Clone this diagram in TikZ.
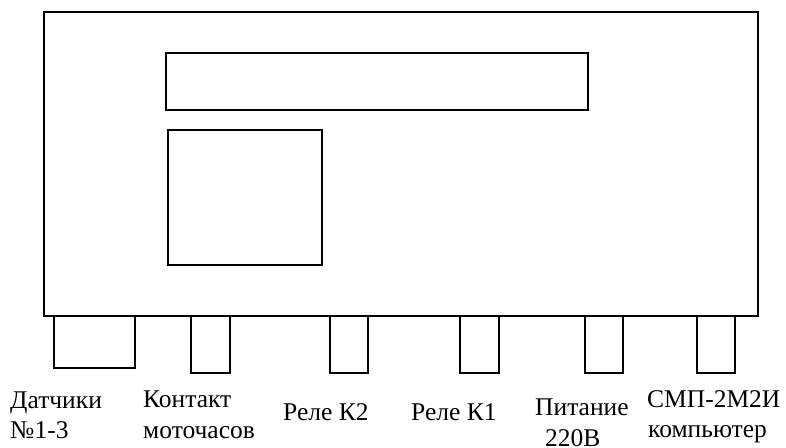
\documentclass[tikz,border=0pt]{standalone}
\usepackage{fontspec}
\setmainfont{Liberation Serif}
\begin{document}
\begin{tikzpicture}[x=1pt,y=-1pt,
  box/.style={draw=black,line width=1.3pt},
  lbl/.style={anchor=base west,inner sep=0pt,font=\fontsize{25.5}{30}\selectfont}]
\useasboundingbox (0,0) rectangle (786,447);
\draw[box] (44,12) rectangle (758,316);
\draw[box] (166,53) rectangle (588,110);
\draw[box] (168,130) rectangle (322,265);
% connectors
\draw[box] (54,316) rectangle (135,368);
\draw[box] (191,316) rectangle (230,373);
\draw[box] (330,316) rectangle (368,373);
\draw[box] (460,316) rectangle (499,373);
\draw[box] (585,316) rectangle (623,373);
\draw[box] (697,316) rectangle (735,373);
% labels
\node[lbl] (d1) at (10,408) {Датчики};
\node[lbl] (d2) at (10,438) {№1-3};
\node[lbl] (k1) at (143,407) {Контакт};
\node[lbl] (k2) at (143,438) {моточасов};
\node[lbl] (r2) at (283,420) {Реле К2};
\node[lbl] (r1) at (411,420) {Реле К1};
\node[lbl] (p1) at (535,415) {Питание};
\node[lbl] (p2) at (545,446) {220В};
\node[lbl] (s1) at (647,407) {СМП-2М2И};
\node[lbl] (s2) at (648,437) {компьютер};
\end{tikzpicture}
\end{document}
